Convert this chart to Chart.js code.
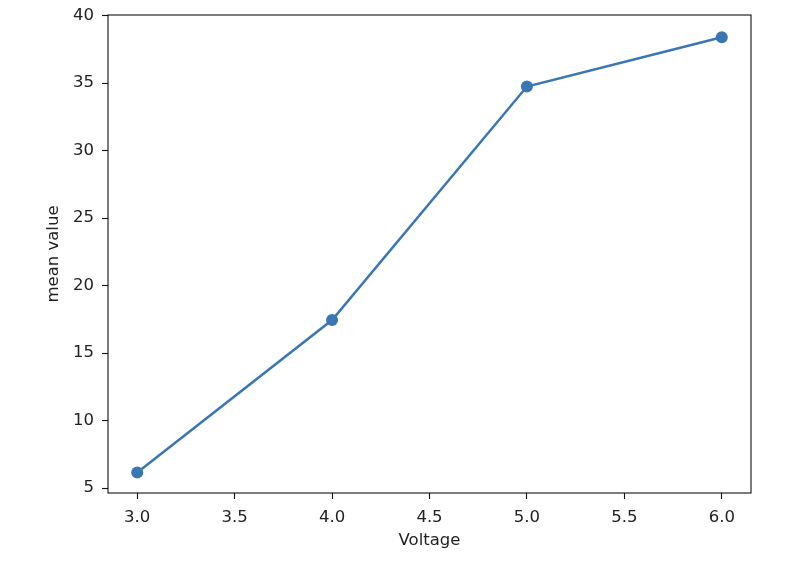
<!DOCTYPE html>
<html>
<head>
<meta charset="utf-8">
<script src="https://cdn.jsdelivr.net/npm/chart.js@4/dist/chart.umd.min.js"></script>
<style>
  html, body { margin: 0; padding: 0; background: #fff; }
  #wrap { width: 800px; height: 564px; }
</style>
</head>
<body>
<div id="wrap"><canvas id="meanChart" width="800" height="564"></canvas></div>
<script>
// data
var voltages = [3.0, 4.0, 5.0, 6.0];
var meanValues = [6.15, 17.45, 34.75, 38.4];
var xTicks = [3.0, 3.5, 4.0, 4.5, 5.0, 5.5, 6.0];
var yTicks = [5, 10, 15, 20, 25, 30, 35, 40];

var lineColor = '#3a76b2';
var tickFont = { family: 'DejaVu Sans', size: 16.5 };

// box round the plot area, like matplotlib's spines
var frame = {
    id: 'frame',
    afterDraw: function (chart) {
        var a = chart.chartArea, ctx = chart.ctx;
        ctx.save();
        ctx.strokeStyle = '#111';
        ctx.lineWidth = 1.1;
        ctx.strokeRect(a.left, a.top, a.right - a.left, a.bottom - a.top);
        ctx.restore();
    }
};

var ctx = document.getElementById('meanChart').getContext('2d');
var meanChart = new Chart(ctx, {
    type: 'line',
    data: {
        datasets: [{
            label: 'mean value',
            data: voltages.map(function (v, i) { return { x: v, y: meanValues[i] }; }),
            borderColor: lineColor,
            backgroundColor: lineColor,
            borderWidth: 2.5,
            pointRadius: 6,
            pointHoverRadius: 6,
            pointBorderWidth: 0,
            tension: 0
        }]
    },
    options: {
        responsive: false,
        animation: false,
        layout: { padding: { left: 0, top: 15, right: 49, bottom: 0 } },
        plugins: { legend: { display: false }, tooltip: { enabled: false } },
        scales: {
            x: {
                type: 'linear',
                min: 2.85,
                max: 6.15,
                afterBuildTicks: function (axis) {
                    axis.ticks = xTicks.map(function (v) { return { value: v }; });
                },
                afterFit: function (axis) { axis.height = 71; },
                grid: { drawOnChartArea: false, tickLength: 6, color: '#111', tickWidth: 1.1 },
                border: { display: false },
                ticks: {
                    color: '#222',
                    font: tickFont,
                    padding: 9,
                    maxRotation: 0,
                    callback: function (v) { return v.toFixed(1); }
                },
                title: {
                    display: true,
                    text: 'Voltage',
                    color: '#222',
                    font: tickFont,
                    padding: { top: 0, bottom: 13 }
                }
            },
            y: {
                type: 'linear',
                min: 4.63,
                max: 40.05,
                afterBuildTicks: function (axis) {
                    axis.ticks = yTicks.map(function (v) { return { value: v }; });
                },
                afterFit: function (axis) {
                    axis.width = 108;
                    axis.paddingTop = 0;
                    axis.paddingBottom = 0;
                },
                grid: { drawOnChartArea: false, tickLength: 6, color: '#111', tickWidth: 1.1 },
                border: { display: false },
                ticks: {
                    color: '#222',
                    font: tickFont,
                    padding: 8
                },
                title: {
                    display: true,
                    text: 'mean value',
                    color: '#222',
                    font: tickFont,
                    padding: { top: 44, bottom: 0 }
                }
            }
        }
    },
    plugins: [frame]
});
</script>
</body>
</html>
